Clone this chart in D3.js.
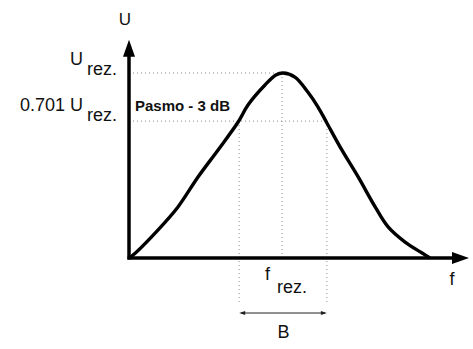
<!DOCTYPE html>
<html>
<head>
<meta charset="utf-8">
<script src="https://cdn.jsdelivr.net/npm/d3@7"></script>
<style>
  body { margin: 0; background: #fff; }
  text { font-family: "Liberation Sans", Arial, sans-serif; fill: #111; }
</style>
</head>
<body>
<div id="chart"></div>
<script>
// resonance curve
const freq = [0, 0.12, 0.85, 1.44, 2.03, 2.62, 3.21, 3.5, 4.0, 4.32, 4.53, 4.88, 5.26, 5.56, 5.82, 6.26, 6.74, 7.24, 7.62, 8.12, 8.62, 8.85];
const volt = [0, 0.016, 0.151, 0.276, 0.438, 0.584, 0.735, 0.827, 0.935, 0.989, 1.0, 0.978, 0.897, 0.816, 0.73, 0.584, 0.438, 0.276, 0.168, 0.086, 0.027, 0];

// reference levels and frequencies
const levels = [1.0, 0.74];
const levelEnds = [4.5, 5.68];
const bandEdges = [3.24, 5.82];
const fRes = 4.5;

const width = 473, height = 349;

// Create scales
const x = d3.scaleLinear().domain([0, 10]).range([129, 469]);
const y = d3.scaleLinear().domain([0, 1]).range([258, 73]);
const yTop = 1.18;

const svg = d3.select("#chart")
  .append("svg")
  .attr("width", width)
  .attr("height", height);

const dotted = "#8a8a8a";

// horizontal dotted levels
svg.selectAll(".level")
  .data(levels)
  .enter().append("line")
  .attr("class", "level")
  .attr("x1", x(0))
  .attr("x2", function (d, i) { return x(levelEnds[i]); })
  .attr("y1", function (d) { return y(d); })
  .attr("y2", function (d) { return y(d); })
  .attr("stroke", dotted)
  .attr("stroke-width", 1)
  .attr("stroke-dasharray", "1,3");

// vertical dotted lines at band edges
svg.selectAll(".edge")
  .data(bandEdges)
  .enter().append("line")
  .attr("class", "edge")
  .attr("x1", function (d) { return x(d); })
  .attr("x2", function (d) { return x(d); })
  .attr("y1", y(levels[1]))
  .attr("y2", 302)
  .attr("stroke", dotted)
  .attr("stroke-width", 1)
  .attr("stroke-dasharray", "1,3");

// vertical dotted line at resonance
svg.append("line")
  .attr("x1", x(fRes))
  .attr("x2", x(fRes))
  .attr("y1", y(1))
  .attr("y2", y(0))
  .attr("stroke", dotted)
  .attr("stroke-width", 1)
  .attr("stroke-dasharray", "1,3");

// axes
svg.append("line")
  .attr("x1", x(0)).attr("x2", x(0))
  .attr("y1", y(0) + 1.5).attr("y2", y(yTop) + 12)
  .attr("stroke", "#000").attr("stroke-width", 3.5);
svg.append("path")
  .attr("d", "M" + x(0) + "," + y(yTop) + "l-6,17l12,0z")
  .attr("fill", "#000");

svg.append("line")
  .attr("x1", x(0) - 1.5).attr("x2", x(10) - 12)
  .attr("y1", y(0)).attr("y2", y(0))
  .attr("stroke", "#000").attr("stroke-width", 3.5);
svg.append("path")
  .attr("d", "M" + x(10) + "," + y(0) + "l-17,-6l0,12z")
  .attr("fill", "#000");

// curve
const pts = freq.map(function (f, i) { return [f, volt[i]]; });
const line = d3.line()
  .x(function (d) { return x(d[0]); })
  .y(function (d) { return y(d[1]); })
  .curve(d3.curveCatmullRom.alpha(0.5));

svg.append("path")
  .datum(pts)
  .attr("d", line)
  .attr("fill", "none")
  .attr("stroke", "#000")
  .attr("stroke-width", 3.4)
  .attr("stroke-linejoin", "round");

// bandwidth arrow
const bY = 313;
svg.append("line")
  .attr("x1", x(bandEdges[0]) + 2).attr("x2", x(bandEdges[1]) - 2)
  .attr("y1", bY).attr("y2", bY)
  .attr("stroke", "#222").attr("stroke-width", 1);
svg.append("path")
  .attr("d", "M" + x(bandEdges[0]) + "," + bY + "l6,-2l0,4z")
  .attr("fill", "#222");
svg.append("path")
  .attr("d", "M" + x(bandEdges[1]) + "," + bY + "l-6,-2l0,4z")
  .attr("fill", "#222");

// labels
const fs = 18;
svg.append("text").attr("x", 125).attr("y", 25)
  .attr("text-anchor", "middle").style("font-size", "17px").text("U");

svg.append("text").attr("x", 83).attr("y", 65)
  .attr("text-anchor", "end").style("font-size", fs + "px").text("U");
svg.append("text").attr("x", 87).attr("y", 75)
  .style("font-size", fs + "px").text("rez.");

svg.append("text").attr("x", 83).attr("y", 111)
  .attr("text-anchor", "end").style("font-size", fs + "px").text("0.701 U");
svg.append("text").attr("x", 87).attr("y", 121)
  .style("font-size", fs + "px").text("rez.");

svg.append("text").attr("x", 135).attr("y", 111)
  .style("font-size", "15px").style("font-weight", "bold").text("Pasmo - 3 dB");

svg.append("text").attr("x", 265).attr("y", 280)
  .style("font-size", fs + "px").text("f");
svg.append("text").attr("x", 277).attr("y", 293)
  .style("font-size", fs + "px").text("rez.");

svg.append("text").attr("x", 452).attr("y", 285)
  .attr("text-anchor", "middle").style("font-size", fs + "px").text("f");

svg.append("text").attr("x", 283.5).attr("y", 338)
  .attr("text-anchor", "middle").style("font-size", fs + "px").text("B");
</script>
</body>
</html>
